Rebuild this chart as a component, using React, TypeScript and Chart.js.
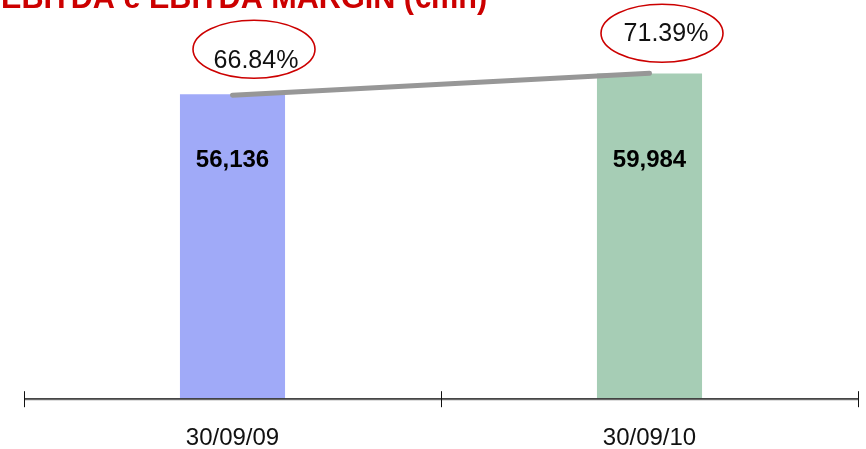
import React, { useEffect, useRef } from "react";
import { Chart, registerables } from "chart.js";

Chart.register(...registerables);

const categories = ["30/09/09", "30/09/10"];
const ebitdaValues = [56136, 59984];
const marginValues = [66.84, 71.39];
const barLabels = ["56,136", "59,984"];
const marginLabels = ["66.84%", "71.39%"];
const titleText = "EBITDA e EBITDA MARGIN (€mn)";

const RED = "#cc0000";

// label/ellipse offsets relative to each line point
const ellipseOffsets = [
  { ex: 21.5, ey: -46, rx: 61, ry: 29, tx: 23.5, ty: -34 },
  { ex: 12.5, ey: -40, rx: 61, ry: 29, tx: 16.5, ty: -39 },
];

const decorPlugin = {
  id: "decor",
  afterDraw(chart: any) {
    const ctx = chart.ctx as CanvasRenderingContext2D;
    const area = chart.chartArea;
    const xs = chart.scales.x;
    const ys = chart.scales.y;
    ctx.save();

    // title (cut at top like the reference)
    ctx.fillStyle = RED;
    ctx.font = "bold 30.6px 'Liberation Sans', Arial, sans-serif";
    ctx.textAlign = "left";
    ctx.textBaseline = "alphabetic";
    ctx.fillText(titleText, 1, 8);

    // x axis line
    const axY = area.bottom;
    ctx.strokeStyle = "#777";
    ctx.lineWidth = 2;
    ctx.beginPath();
    ctx.moveTo(area.left, axY);
    ctx.lineTo(area.right, axY);
    ctx.stroke();
    ctx.strokeStyle = "#333";
    ctx.lineWidth = 1;
    ctx.beginPath();
    ctx.moveTo(area.left, axY - 0.5);
    ctx.lineTo(area.right, axY - 0.5);
    ctx.stroke();

    // tick marks between categories
    const tickXs: number[] = [xs.left];
    for (let i = 0; i < categories.length - 1; i++) {
      tickXs.push((xs.getPixelForValue(i) + xs.getPixelForValue(i + 1)) / 2);
    }
    tickXs.push(xs.right);
    ctx.strokeStyle = "#111";
    ctx.lineWidth = 1;
    tickXs.forEach((tx) => {
      const px = Math.round(tx) + 0.5;
      ctx.beginPath();
      ctx.moveTo(px, axY - 8);
      ctx.lineTo(px, axY + 8);
      ctx.stroke();
    });

    // bar value labels
    ctx.fillStyle = "#000";
    ctx.font = "bold 24px 'Liberation Sans', Arial, sans-serif";
    ctx.textAlign = "center";
    ctx.textBaseline = "middle";
    const labelY = ys.getPixelForValue(44000);
    barLabels.forEach((t, i) => {
      ctx.fillText(t, xs.getPixelForValue(i), labelY);
    });

    // margin ellipses + labels
    const meta = chart.getDatasetMeta(1);
    meta.data.forEach((pt: any, i: number) => {
      const o = ellipseOffsets[i];
      ctx.strokeStyle = RED;
      ctx.lineWidth = 1.6;
      ctx.beginPath();
      ctx.ellipse(pt.x + o.ex, pt.y + o.ey, o.rx, o.ry, 0, 0, Math.PI * 2);
      ctx.stroke();
      ctx.fillStyle = "#111";
      ctx.font = "25px 'Liberation Sans', Arial, sans-serif";
      ctx.textAlign = "center";
      ctx.textBaseline = "middle";
      ctx.fillText(marginLabels[i], pt.x + o.tx, pt.y + o.ty);
    });

    ctx.restore();
  },
};

export default function App() {
  const ref = useRef<HTMLCanvasElement | null>(null);

  useEffect(() => {
    if (!ref.current) return;
    const chart = new Chart(ref.current, {
      type: "bar",
      data: {
        labels: categories,
        datasets: [
          {
            type: "bar",
            label: "EBITDA",
            data: ebitdaValues,
            backgroundColor: ["rgb(160,170,248)", "rgb(166,205,181)"],
            borderWidth: 0,
            barPercentage: 0.252,
            categoryPercentage: 1,
            yAxisID: "y",
            order: 2,
          },
          {
            type: "line",
            label: "EBITDA margin",
            data: marginValues,
            borderColor: "#979797",
            borderWidth: 5,
            borderCapStyle: "round",
            pointRadius: 0,
            yAxisID: "y1",
            order: 1,
          } as any,
        ],
      },
      options: {
        responsive: false,
        animation: false,
        layout: { padding: { top: 19, left: 24, right: 8, bottom: -29 } },
        plugins: {
          legend: { display: false },
          tooltip: { enabled: false },
          title: { display: false },
        },
        scales: {
          x: {
            offset: true,
            grid: { display: false, drawTicks: false },
            border: { display: false },
            ticks: {
              color: "#111",
              padding: 25,
              font: { family: "'Liberation Sans', Arial, sans-serif", size: 24 },
            },
          },
          y: {
            display: false,
            min: 0,
            max: 70000,
          },
          y1: {
            display: false,
            min: 4,
            max: 82.6,
            position: "right",
          },
        },
      },
      plugins: [decorPlugin],
    });
    return () => chart.destroy();
  }, []);

  return (
    <div style={{ position: "absolute", left: 0, top: 0, width: 866, height: 449, background: "#fff" }}>
      <canvas ref={ref} width={866} height={449} style={{ display: "block" }} />
    </div>
  );
}
